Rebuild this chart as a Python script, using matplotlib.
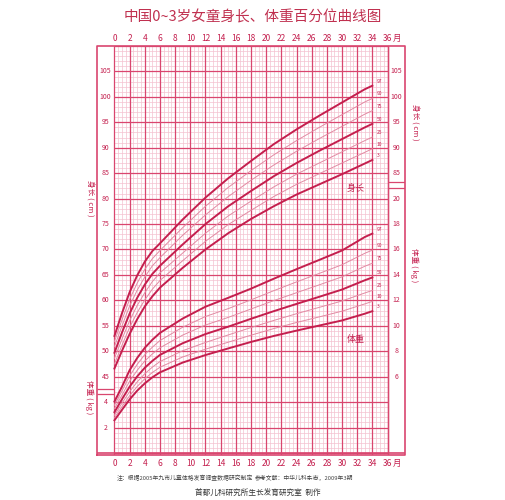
import numpy as np
import matplotlib.pyplot as plt

plt.rcParams['font.family'] = ['Noto Sans CJK SC', 'DejaVu Sans']

# months where curves are given
months = [0, 1, 2, 3, 4, 5, 6, 9, 12, 15, 18, 21, 24, 27, 30, 33, 34]
pct_labels = ['3', '10', '25', '50', '75', '90', '97']

# length (cm), percentiles 3,10,25,50,75,90,97
length = [
    [46.6, 47.5, 48.6, 49.7, 50.9, 51.9, 53.0],
    [50.1, 51.2, 52.4, 53.7, 55.0, 56.2, 57.5],
    [53.4, 54.7, 56.0, 57.4, 58.9, 60.2, 61.6],
    [56.3, 57.6, 59.0, 60.5, 62.0, 63.4, 64.9],
    [58.8, 60.1, 61.5, 63.1, 64.6, 66.1, 67.6],
    [60.8, 62.2, 63.7, 65.2, 66.8, 68.2, 69.7],
    [62.5, 63.9, 65.4, 66.8, 68.4, 69.8, 71.2],
    [66.4, 67.8, 69.3, 71.0, 72.8, 74.3, 75.9],
    [70.0, 71.6, 73.2, 75.0, 76.8, 78.5, 80.2],
    [73.2, 74.9, 76.6, 78.5, 80.4, 82.2, 84.0],
    [76.0, 77.7, 79.5, 81.5, 83.6, 85.5, 87.4],
    [78.5, 80.4, 82.3, 84.4, 86.6, 88.6, 90.7],
    [80.8, 82.8, 84.8, 87.0, 89.3, 91.4, 93.6],
    [82.8, 84.9, 87.0, 89.4, 91.8, 94.0, 96.3],
    [84.8, 87.0, 89.2, 91.7, 94.2, 96.5, 98.9],
    [86.9, 89.1, 91.4, 94.0, 96.6, 99.0, 101.5],
    [87.6, 89.8, 92.1, 94.7, 97.3, 99.7, 102.2],
]

# weight (kg), percentiles 3,10,25,50,75,90,97
weight = [
    [2.57, 2.76, 2.96, 3.21, 3.49, 3.75, 4.04],
    [3.40, 3.65, 3.92, 4.23, 4.56, 4.88, 5.22],
    [4.21, 4.50, 4.82, 5.21, 5.64, 6.06, 6.51],
    [4.90, 5.23, 5.59, 6.02, 6.50, 6.97, 7.47],
    [5.47, 5.83, 6.23, 6.70, 7.23, 7.73, 8.27],
    [5.95, 6.33, 6.75, 7.24, 7.79, 8.32, 8.90],
    [6.34, 6.74, 7.19, 7.71, 8.27, 8.84, 9.44],
    [7.11, 7.55, 8.04, 8.63, 9.27, 9.89, 10.57],
    [7.70, 8.16, 8.69, 9.35, 10.06, 10.73, 11.50],
    [8.22, 8.71, 9.28, 9.93, 10.66, 11.35, 12.20],
    [8.73, 9.26, 9.86, 10.55, 11.32, 12.04, 12.92],
    [9.20, 9.78, 10.42, 11.15, 11.98, 12.76, 13.70],
    [9.62, 10.26, 10.95, 11.72, 12.60, 13.45, 14.45],
    [10.02, 10.70, 11.45, 12.28, 13.22, 14.12, 15.18],
    [10.42, 11.15, 11.95, 12.85, 13.85, 14.80, 15.92],
    [10.95, 11.72, 12.58, 13.58, 14.68, 15.70, 16.98],
    [11.15, 11.92, 12.78, 13.80, 14.92, 15.95, 17.25],
]

month_ticks = list(range(0, 37, 2))
len_left = list(range(45, 106, 5))
len_right = list(range(85, 106, 5))
wt_left = [2, 4]
wt_right = list(range(6, 21, 2))

DARK = '#c41f4e'
MID = '#d9466f'
LIGHT = '#f4c2d0'
THIN = '#e28aa3'


def w2y(w):
    # weight is drawn on the same scale: 0 kg at 30 cm, 2 kg per 5 cm
    return 30 + 2.5 * np.asarray(w)


fig = plt.figure(figsize=(5.05, 5.0), dpi=100)
ax = fig.add_axes([97 / 505, 1 - 455 / 500, 308 / 505, 409 / 500])
ax.set_xlim(-2.3, 38.3)
ax.set_ylim(29.6, 110)
ax.axis('off')

# grid
for m in np.arange(0, 36.01, 0.5):
    ax.vlines(m, 29.6, 110, color=LIGHT, lw=0.5, zorder=1)
for m in month_ticks:
    ax.vlines(m, 29.6, 110, color=MID, lw=0.9, zorder=2)
for v in np.arange(30, 110.01, 1):
    ax.hlines(v, 0, 36, color=LIGHT, lw=0.5, zorder=1)
for v in np.arange(30, 110.01, 5):
    ax.hlines(v, 0, 36, color=MID, lw=0.9, zorder=2)

# frame and side strips
ax.plot([-2.3, 38.3, 38.3, -2.3, -2.3], [29.6, 29.6, 110, 110, 29.6], color=MID, lw=1.2, clip_on=False)
ax.vlines(36, 29.6, 110, color=MID, lw=1.0)
ax.hlines(w2y(0), -2.3, 38.3, color=MID, lw=1.2)
ax.hlines([42.5, 41.5], -2.3, 0, color=MID, lw=0.9)
ax.hlines([83.2, 82.0], 36, 38.3, color=MID, lw=0.9)

# curves
months_arr = np.array(months)
L = np.array(length)
W = np.array(weight)
for i, lab in enumerate(pct_labels):
    heavy = lab in ('3', '50', '97')
    col = DARK if heavy else THIN
    lw = 1.4 if heavy else 0.7
    ax.plot(months_arr, L[:, i], color=col, lw=lw, zorder=4)
    ax.plot(months_arr, w2y(W[:, i]), color=col, lw=lw, zorder=4)
    ax.text(34.6, L[-1, i] + 0.6, lab, fontsize=3.5, color=DARK, zorder=5)
    ax.text(34.6, w2y(W[-1, i]) + 0.6, lab, fontsize=3.5, color=DARK, zorder=5)

ax.text(31.8, 82.0, '身长', fontsize=6.5, color=DARK, ha='center', va='center')
ax.text(31.8, 52.3, '体重', fontsize=6.5, color=DARK, ha='center', va='center')

# month labels
for m in month_ticks:
    ax.text(m, 111.5, str(m), fontsize=6, color=DARK, ha='center', va='center', clip_on=False)
    ax.text(m, 28.0, str(m), fontsize=6, color=DARK, ha='center', va='center', clip_on=False)
ax.text(37.3, 111.5, '月', fontsize=6, color=DARK, ha='center', va='center')
ax.text(37.3, 28.0, '月', fontsize=6, color=DARK, ha='center', va='center')

# axis labels
for v in len_left:
    ax.text(-1.2, v, str(v), fontsize=5, color=DARK, ha='center', va='center')
for v in wt_left:
    ax.text(-1.2, w2y(v), str(v), fontsize=5, color=DARK, ha='center', va='center')
for v in len_right:
    ax.text(37.2, v, str(v), fontsize=5, color=DARK, ha='center', va='center')
for v in wt_right:
    ax.text(37.2, w2y(v), str(v), fontsize=5, color=DARK, ha='center', va='center')

ax.text(-3.3, 80, '身长 ( cm )', fontsize=5.5, color=DARK, rotation=-90, ha='center', va='center')
ax.text(-3.3, 41, '体重 ( kg )', fontsize=5.5, color=DARK, rotation=-90, ha='center', va='center')
ax.text(39.5, 95, '身长 ( cm )', fontsize=5.5, color=DARK, rotation=-90, ha='center', va='center')
ax.text(39.5, 67, '体重 ( kg )', fontsize=5.5, color=DARK, rotation=-90, ha='center', va='center')

fig.text(0.5, 1 - 17 / 500, '中国0~3岁女童身长、体重百分位曲线图', fontsize=10.5,
         color='#c0304f', ha='center', va='center')
fig.text(117 / 505, 1 - 478 / 500, '注：根据2005年九市儿童体格发育调查数据研究制定',
         fontsize=4.2, color='#444444', va='center')
fig.text(255 / 505, 1 - 478 / 500, '参考文献：中华儿科杂志，2009年3期',
         fontsize=4.2, color='#444444', va='center')
fig.text(258 / 505, 1 - 494 / 500, '首都儿科研究所生长发育研究室  制作',
         fontsize=5.5, color='#333333', ha='center', va='center')

fig.savefig('out.png', dpi=100, facecolor='white')
